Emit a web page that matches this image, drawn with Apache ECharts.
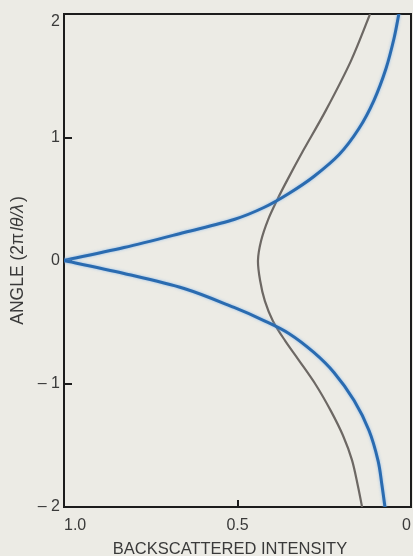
<!DOCTYPE html>
<html>
<head>
<meta charset="utf-8">
<style>
  html, body { margin: 0; padding: 0; background: #ecebe5; }
  #chart { width: 413px; height: 556px; }
</style>
<script src="https://cdn.jsdelivr.net/npm/echarts@6/dist/echarts.min.js"></script>
</head>
<body>
<div id="chart"></div>
<script>
// Backscattered intensity versus angle parameter
const yTicks = [-2, -1, 0, 1, 2];
const xTickLabels = { 1: '1.0', 0.5: '0.5', 0: '0' };

// Grey curve: angle and intensity
const greyAngle = [2.0, 1.62, 1.22, 0.89, 0.65, 0.49, 0.33, 0.16, 0, -0.16, -0.33, -0.49, -0.65, -0.81, -1.01, -1.22, -1.42, -1.62, -1.83, -2.0];
const greyIntensity = [0.118, 0.173, 0.245, 0.311, 0.357, 0.386, 0.412, 0.432, 0.441, 0.435, 0.421, 0.398, 0.363, 0.323, 0.274, 0.231, 0.196, 0.170, 0.153, 0.141];

// Blue curve, upper branch
const blueUpAngle = [0, 0.105, 0.227, 0.333, 0.43, 0.544, 0.682, 0.86, 1.071, 1.298, 1.558, 1.801, 2.0];
const blueUpIntensity = [1.0, 0.827, 0.654, 0.51, 0.424, 0.352, 0.28, 0.207, 0.15, 0.107, 0.072, 0.049, 0.035];

// Blue curve, lower branch
const blueDownAngle = [0, -0.105, -0.227, -0.381, -0.487, -0.592, -0.746, -0.909, -1.136, -1.379, -1.623, -1.817, -2.0];
const blueDownIntensity = [1.0, 0.827, 0.654, 0.51, 0.424, 0.352, 0.28, 0.222, 0.164, 0.121, 0.095, 0.084, 0.075];

const pairs = (xs, ys) => xs.map((x, i) => [x, ys[i]]);

// Smooth curve through the data points (Catmull-Rom converted to cubic Béziers),
// positioned through the chart's own coordinate system.
function curveSeries(name, points, lineStyle) {
  return {
    type: 'custom', name: name, clip: true,
    data: points,
    encode: { x: 0, y: 1 },
    renderItem: function (params, api) {
      if (params.dataIndex !== 0) return null;
      const p = points.map(d => api.coord(d));
      let d = 'M' + p[0][0] + ',' + p[0][1];
      for (let i = 0; i < p.length - 1; i++) {
        const p0 = p[Math.max(i - 1, 0)], p1 = p[i], p2 = p[i + 1], p3 = p[Math.min(i + 2, p.length - 1)];
        const c1x = p1[0] + (p2[0] - p0[0]) / 6, c1y = p1[1] + (p2[1] - p0[1]) / 6;
        const c2x = p2[0] - (p3[0] - p1[0]) / 6, c2y = p2[1] - (p3[1] - p1[1]) / 6;
        d += ' C' + c1x + ',' + c1y + ' ' + c2x + ',' + c2y + ' ' + p2[0] + ',' + p2[1];
      }
      return {
        type: 'path',
        shape: { pathData: d },
        style: Object.assign({ fill: null }, lineStyle)
      };
    }
  };
}

const chart = echarts.init(document.getElementById('chart'));
const textColor = '#3a3a3a';
const font = 'Liberation Sans, Arial, sans-serif';

const blueStyle = {
  stroke: '#2a6bb0', lineWidth: 3, lineCap: 'round',
  shadowColor: 'rgba(110,170,235,0.7)', shadowBlur: 3
};
const greyStyle = { stroke: '#6d6864', lineWidth: 2.2 };

chart.setOption({
  backgroundColor: '#ecebe5',
  animation: false,
  grid: {
    left: 64, right: 2, top: 14, bottom: 49,
    outerBoundsMode: 'none',
    show: true, borderColor: '#1c1c1c', borderWidth: 2, backgroundColor: 'transparent'
  },
  xAxis: {
    type: 'value', min: 0, max: 1, interval: 0.5, inverse: true,
    name: 'BACKSCATTERED INTENSITY',
    nameLocation: 'middle', nameGap: 34,
    nameTextStyle: { color: textColor, fontSize: 16.5, fontFamily: font, padding: [0, 15, 0, 0] },
    axisLine: { show: true, onZero: false, lineStyle: { color: '#1c1c1c', width: 2 } },
    axisTick: {
      show: true, inside: true, length: 7,
      lineStyle: { color: '#1c1c1c', width: 2 },
      customValues: [0.5]
    },
    axisLabel: {
      color: textColor, fontSize: 16, fontFamily: font, margin: 11,
      customValues: [1, 0.5, 0],
      formatter: v => xTickLabels[v] !== undefined ? xTickLabels[v] : String(v),
      alignMinLabel: 'left',
      alignMaxLabel: 'right'
    },
    splitLine: { show: false }
  },
  yAxis: {
    type: 'value', min: -2, max: 2, interval: 1,
    name: '{n|ANGLE (2π}{i|lθ/λ}{n|)}',
    nameLocation: 'middle', nameGap: 31, nameRotate: 90,
    nameTextStyle: {
      color: textColor, fontSize: 17.5, fontFamily: font,
      rich: {
        n: { color: textColor, fontSize: 17.5, fontFamily: font },
        i: { color: textColor, fontSize: 17.5, fontFamily: font, fontStyle: 'italic', padding: [0, 2, 0, 2] }
      }
    },
    axisLine: { show: true, onZero: false, lineStyle: { color: '#1c1c1c', width: 2 } },
    axisTick: {
      show: true, inside: true, length: 8,
      lineStyle: { color: '#1c1c1c', width: 2 },
      customValues: [-1, 0, 1]
    },
    axisLabel: {
      color: textColor, fontSize: 16, fontFamily: font, margin: 4,
      customValues: yTicks,
      formatter: v => v < 0 ? '\u2013 ' + Math.abs(v) : String(v),
      verticalAlignMaxLabel: 'top'
    },
    splitLine: { show: false }
  },
  series: [
    curveSeries('grey', pairs(greyIntensity, greyAngle), greyStyle),
    curveSeries('blue-up', pairs(blueUpIntensity, blueUpAngle), blueStyle),
    curveSeries('blue-down', pairs(blueDownIntensity, blueDownAngle), blueStyle)
  ]
});
</script>
</body>
</html>
